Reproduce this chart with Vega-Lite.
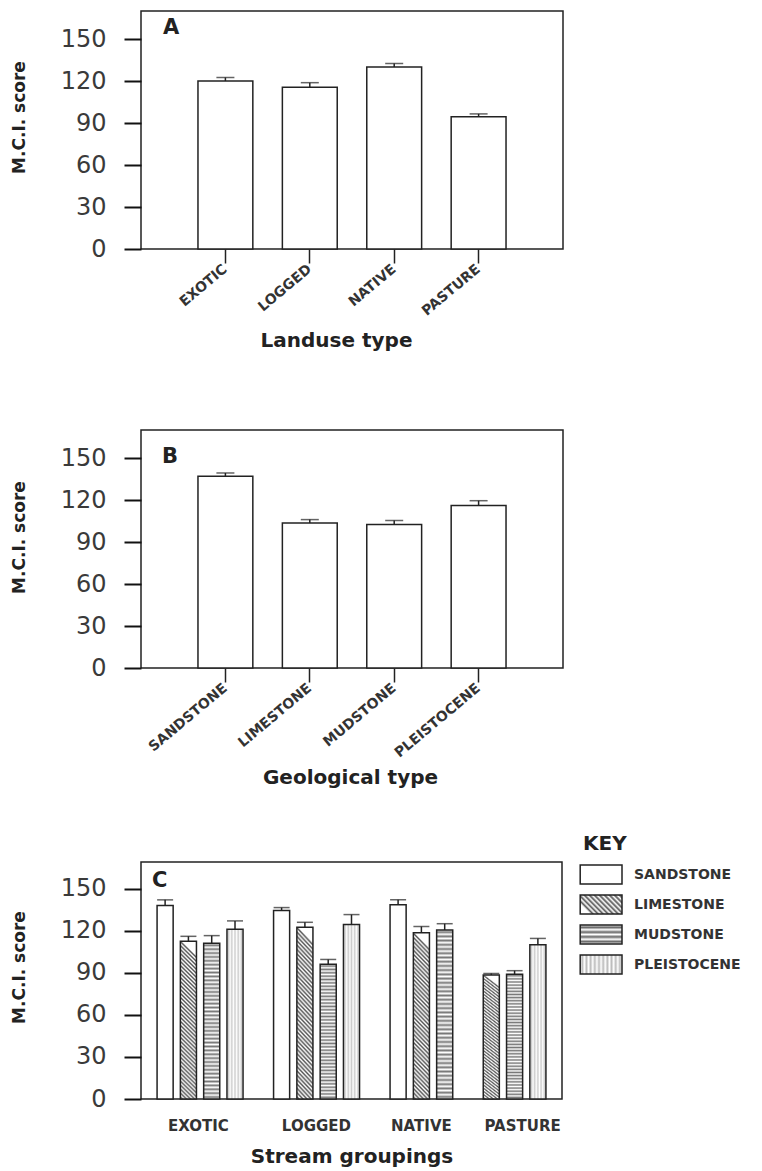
{
  "$schema": "https://vega.github.io/schema/vega-lite/v6.json",
  "background": "white",
  "padding": {"left": 9, "top": 10, "right": 5, "bottom": 5},
  "params": [
    {"name": "mudGrad", "value": {"gradient": "linear", "x1": 0, "y1": 0, "x2": 0, "y2": 1, "stops": [{"offset":0,"color":"#ffffff"},{"offset":0.0125,"color":"#777777"},{"offset":0.025,"color":"#ffffff"},{"offset":0.0375,"color":"#777777"},{"offset":0.05,"color":"#ffffff"},{"offset":0.0625,"color":"#777777"},{"offset":0.075,"color":"#ffffff"},{"offset":0.0875,"color":"#777777"},{"offset":0.1,"color":"#ffffff"},{"offset":0.1125,"color":"#777777"},{"offset":0.125,"color":"#ffffff"},{"offset":0.1375,"color":"#777777"},{"offset":0.15,"color":"#ffffff"},{"offset":0.1625,"color":"#777777"},{"offset":0.175,"color":"#ffffff"},{"offset":0.1875,"color":"#777777"},{"offset":0.2,"color":"#ffffff"},{"offset":0.2125,"color":"#777777"},{"offset":0.225,"color":"#ffffff"},{"offset":0.2375,"color":"#777777"},{"offset":0.25,"color":"#ffffff"},{"offset":0.2625,"color":"#777777"},{"offset":0.275,"color":"#ffffff"},{"offset":0.2875,"color":"#777777"},{"offset":0.3,"color":"#ffffff"},{"offset":0.3125,"color":"#777777"},{"offset":0.325,"color":"#ffffff"},{"offset":0.3375,"color":"#777777"},{"offset":0.35,"color":"#ffffff"},{"offset":0.3625,"color":"#777777"},{"offset":0.375,"color":"#ffffff"},{"offset":0.3875,"color":"#777777"},{"offset":0.4,"color":"#ffffff"},{"offset":0.4125,"color":"#777777"},{"offset":0.425,"color":"#ffffff"},{"offset":0.4375,"color":"#777777"},{"offset":0.45,"color":"#ffffff"},{"offset":0.4625,"color":"#777777"},{"offset":0.475,"color":"#ffffff"},{"offset":0.4875,"color":"#777777"},{"offset":0.5,"color":"#ffffff"},{"offset":0.5125,"color":"#777777"},{"offset":0.525,"color":"#ffffff"},{"offset":0.5375,"color":"#777777"},{"offset":0.55,"color":"#ffffff"},{"offset":0.5625,"color":"#777777"},{"offset":0.575,"color":"#ffffff"},{"offset":0.5875,"color":"#777777"},{"offset":0.6,"color":"#ffffff"},{"offset":0.6125,"color":"#777777"},{"offset":0.625,"color":"#ffffff"},{"offset":0.6375,"color":"#777777"},{"offset":0.65,"color":"#ffffff"},{"offset":0.6625,"color":"#777777"},{"offset":0.675,"color":"#ffffff"},{"offset":0.6875,"color":"#777777"},{"offset":0.7,"color":"#ffffff"},{"offset":0.7125,"color":"#777777"},{"offset":0.725,"color":"#ffffff"},{"offset":0.7375,"color":"#777777"},{"offset":0.75,"color":"#ffffff"},{"offset":0.7625,"color":"#777777"},{"offset":0.775,"color":"#ffffff"},{"offset":0.7875,"color":"#777777"},{"offset":0.8,"color":"#ffffff"},{"offset":0.8125,"color":"#777777"},{"offset":0.825,"color":"#ffffff"},{"offset":0.8375,"color":"#777777"},{"offset":0.85,"color":"#ffffff"},{"offset":0.8625,"color":"#777777"},{"offset":0.875,"color":"#ffffff"},{"offset":0.8875,"color":"#777777"},{"offset":0.9,"color":"#ffffff"},{"offset":0.9125,"color":"#777777"},{"offset":0.925,"color":"#ffffff"},{"offset":0.9375,"color":"#777777"},{"offset":0.95,"color":"#ffffff"},{"offset":0.9625,"color":"#777777"},{"offset":0.975,"color":"#ffffff"},{"offset":0.9875,"color":"#777777"},{"offset":1,"color":"#ffffff"}]}},
    {"name": "limeGrad", "value": {"gradient": "linear", "x1": 0.1, "y1": 0, "x2": 0, "y2": 1, "stops": [{"offset":0,"color":"#ffffff"},{"offset":0.0125,"color":"#555555"},{"offset":0.025,"color":"#ffffff"},{"offset":0.0375,"color":"#555555"},{"offset":0.05,"color":"#ffffff"},{"offset":0.0625,"color":"#555555"},{"offset":0.075,"color":"#ffffff"},{"offset":0.0875,"color":"#555555"},{"offset":0.1,"color":"#ffffff"},{"offset":0.1125,"color":"#555555"},{"offset":0.125,"color":"#ffffff"},{"offset":0.1375,"color":"#555555"},{"offset":0.15,"color":"#ffffff"},{"offset":0.1625,"color":"#555555"},{"offset":0.175,"color":"#ffffff"},{"offset":0.1875,"color":"#555555"},{"offset":0.2,"color":"#ffffff"},{"offset":0.2125,"color":"#555555"},{"offset":0.225,"color":"#ffffff"},{"offset":0.2375,"color":"#555555"},{"offset":0.25,"color":"#ffffff"},{"offset":0.2625,"color":"#555555"},{"offset":0.275,"color":"#ffffff"},{"offset":0.2875,"color":"#555555"},{"offset":0.3,"color":"#ffffff"},{"offset":0.3125,"color":"#555555"},{"offset":0.325,"color":"#ffffff"},{"offset":0.3375,"color":"#555555"},{"offset":0.35,"color":"#ffffff"},{"offset":0.3625,"color":"#555555"},{"offset":0.375,"color":"#ffffff"},{"offset":0.3875,"color":"#555555"},{"offset":0.4,"color":"#ffffff"},{"offset":0.4125,"color":"#555555"},{"offset":0.425,"color":"#ffffff"},{"offset":0.4375,"color":"#555555"},{"offset":0.45,"color":"#ffffff"},{"offset":0.4625,"color":"#555555"},{"offset":0.475,"color":"#ffffff"},{"offset":0.4875,"color":"#555555"},{"offset":0.5,"color":"#ffffff"},{"offset":0.5125,"color":"#555555"},{"offset":0.525,"color":"#ffffff"},{"offset":0.5375,"color":"#555555"},{"offset":0.55,"color":"#ffffff"},{"offset":0.5625,"color":"#555555"},{"offset":0.575,"color":"#ffffff"},{"offset":0.5875,"color":"#555555"},{"offset":0.6,"color":"#ffffff"},{"offset":0.6125,"color":"#555555"},{"offset":0.625,"color":"#ffffff"},{"offset":0.6375,"color":"#555555"},{"offset":0.65,"color":"#ffffff"},{"offset":0.6625,"color":"#555555"},{"offset":0.675,"color":"#ffffff"},{"offset":0.6875,"color":"#555555"},{"offset":0.7,"color":"#ffffff"},{"offset":0.7125,"color":"#555555"},{"offset":0.725,"color":"#ffffff"},{"offset":0.7375,"color":"#555555"},{"offset":0.75,"color":"#ffffff"},{"offset":0.7625,"color":"#555555"},{"offset":0.775,"color":"#ffffff"},{"offset":0.7875,"color":"#555555"},{"offset":0.8,"color":"#ffffff"},{"offset":0.8125,"color":"#555555"},{"offset":0.825,"color":"#ffffff"},{"offset":0.8375,"color":"#555555"},{"offset":0.85,"color":"#ffffff"},{"offset":0.8625,"color":"#555555"},{"offset":0.875,"color":"#ffffff"},{"offset":0.8875,"color":"#555555"},{"offset":0.9,"color":"#ffffff"},{"offset":0.9125,"color":"#555555"},{"offset":0.925,"color":"#ffffff"},{"offset":0.9375,"color":"#555555"},{"offset":0.95,"color":"#ffffff"},{"offset":0.9625,"color":"#555555"},{"offset":0.975,"color":"#ffffff"},{"offset":0.9875,"color":"#555555"},{"offset":1,"color":"#ffffff"}]}},
    {"name": "pleiGrad", "value": {"gradient": "linear", "x1": 0, "y1": 0, "x2": 1, "y2": 0, "stops": [{"offset":0,"color":"#ffffff"},{"offset":0.1,"color":"#cccccc"},{"offset":0.2,"color":"#ffffff"},{"offset":0.3,"color":"#cccccc"},{"offset":0.4,"color":"#ffffff"},{"offset":0.5,"color":"#cccccc"},{"offset":0.6,"color":"#ffffff"},{"offset":0.7,"color":"#cccccc"},{"offset":0.8,"color":"#ffffff"},{"offset":0.9,"color":"#cccccc"},{"offset":1,"color":"#ffffff"}]}},
    {"name": "mudLeg", "value": {"gradient": "linear", "x1": 0, "y1": 0, "x2": 0, "y2": 1, "stops": [{"offset":0,"color":"#ffffff"},{"offset":0.125,"color":"#666666"},{"offset":0.25,"color":"#ffffff"},{"offset":0.375,"color":"#666666"},{"offset":0.5,"color":"#ffffff"},{"offset":0.625,"color":"#666666"},{"offset":0.75,"color":"#ffffff"},{"offset":0.875,"color":"#666666"},{"offset":1,"color":"#ffffff"}]}},
    {"name": "limeLeg", "value": {"gradient": "linear", "x1": 1, "y1": 0, "x2": 0, "y2": 0.45, "stops": [{"offset":0,"color":"#ffffff"},{"offset":0.05,"color":"#555555"},{"offset":0.1,"color":"#ffffff"},{"offset":0.15,"color":"#555555"},{"offset":0.2,"color":"#ffffff"},{"offset":0.25,"color":"#555555"},{"offset":0.3,"color":"#ffffff"},{"offset":0.35,"color":"#555555"},{"offset":0.4,"color":"#ffffff"},{"offset":0.45,"color":"#555555"},{"offset":0.5,"color":"#ffffff"},{"offset":0.55,"color":"#555555"},{"offset":0.6,"color":"#ffffff"},{"offset":0.65,"color":"#555555"},{"offset":0.7,"color":"#ffffff"},{"offset":0.75,"color":"#555555"},{"offset":0.8,"color":"#ffffff"},{"offset":0.85,"color":"#555555"},{"offset":0.9,"color":"#ffffff"},{"offset":0.95,"color":"#555555"},{"offset":1,"color":"#ffffff"}]}},
    {"name": "pleiLeg", "value": {"gradient": "linear", "x1": 0, "y1": 0, "x2": 1, "y2": 0, "stops": [{"offset":0,"color":"#ffffff"},{"offset":0.05,"color":"#bbbbbb"},{"offset":0.1,"color":"#ffffff"},{"offset":0.15,"color":"#bbbbbb"},{"offset":0.2,"color":"#ffffff"},{"offset":0.25,"color":"#bbbbbb"},{"offset":0.3,"color":"#ffffff"},{"offset":0.35,"color":"#bbbbbb"},{"offset":0.4,"color":"#ffffff"},{"offset":0.45,"color":"#bbbbbb"},{"offset":0.5,"color":"#ffffff"},{"offset":0.55,"color":"#bbbbbb"},{"offset":0.6,"color":"#ffffff"},{"offset":0.65,"color":"#bbbbbb"},{"offset":0.7,"color":"#ffffff"},{"offset":0.75,"color":"#bbbbbb"},{"offset":0.8,"color":"#ffffff"},{"offset":0.85,"color":"#bbbbbb"},{"offset":0.9,"color":"#ffffff"},{"offset":0.95,"color":"#bbbbbb"},{"offset":1,"color":"#ffffff"}]}}
  ],
  "datasets": {
    "landuse": [
      {"landuse": "EXOTIC", "mci": 120, "err": 122.5},
      {"landuse": "LOGGED", "mci": 115.5, "err": 118.8},
      {"landuse": "NATIVE", "mci": 130, "err": 132.5},
      {"landuse": "PASTURE", "mci": 94.5, "err": 96.5}
    ],
    "geology": [
      {"geology": "SANDSTONE", "mci": 137, "err": 139.3},
      {"geology": "LIMESTONE", "mci": 103.5, "err": 106},
      {"geology": "MUDSTONE", "mci": 102.5, "err": 105.3},
      {"geology": "PLEISTOCENE", "mci": 116, "err": 119.5}
    ],
    "streams": [
      {"bar": "EXOTIC|SANDSTONE", "grouping": "EXOTIC", "type": "SANDSTONE", "mci": 138, "err": 142},
      {"bar": "EXOTIC|LIMESTONE", "grouping": "EXOTIC", "type": "LIMESTONE", "mci": 112.5, "err": 116},
      {"bar": "EXOTIC|MUDSTONE", "grouping": "EXOTIC", "type": "MUDSTONE", "mci": 111, "err": 116.5},
      {"bar": "EXOTIC|PLEISTOCENE", "grouping": "EXOTIC", "type": "PLEISTOCENE", "mci": 121, "err": 127},
      {"bar": "LOGGED|SANDSTONE", "grouping": "LOGGED", "type": "SANDSTONE", "mci": 134.5, "err": 136.5},
      {"bar": "LOGGED|LIMESTONE", "grouping": "LOGGED", "type": "LIMESTONE", "mci": 122.5, "err": 126},
      {"bar": "LOGGED|MUDSTONE", "grouping": "LOGGED", "type": "MUDSTONE", "mci": 96, "err": 99.5},
      {"bar": "LOGGED|PLEISTOCENE", "grouping": "LOGGED", "type": "PLEISTOCENE", "mci": 124.5, "err": 131.5},
      {"bar": "NATIVE|SANDSTONE", "grouping": "NATIVE", "type": "SANDSTONE", "mci": 138.5, "err": 142},
      {"bar": "NATIVE|LIMESTONE", "grouping": "NATIVE", "type": "LIMESTONE", "mci": 118.5, "err": 123},
      {"bar": "NATIVE|MUDSTONE", "grouping": "NATIVE", "type": "MUDSTONE", "mci": 120.5, "err": 125},
      {"bar": "PASTURE|LIMESTONE", "grouping": "PASTURE", "type": "LIMESTONE", "mci": 88.5, "err": 89.5},
      {"bar": "PASTURE|MUDSTONE", "grouping": "PASTURE", "type": "MUDSTONE", "mci": 89, "err": 91.5},
      {"bar": "PASTURE|PLEISTOCENE", "grouping": "PASTURE", "type": "PLEISTOCENE", "mci": 110, "err": 114.5}
    ]
  },
  "config": {
    "view": {"stroke": "#222222", "strokeWidth": 1.5},
    "title": {"font": "DejaVu Sans"},
    "axis": {"grid": false, "domain": false, "ticks": true, "tickColor": "#222222", "tickWidth": 1.5, "tickOpacity": 1, "labelColor": "#333333", "titleColor": "#222222", "labelFont": "DejaVu Sans", "titleFont": "DejaVu Sans", "titleFontWeight": "bold"},
    "axisY": {"labelFontSize": 24, "labelPadding": 18, "tickSize": 17, "ticks": true, "tickColor": "#111111", "tickWidth": 2, "tickOpacity": 1, "titleFontSize": 17, "titleBaseline": "bottom", "labelFontWeight": "normal", "labelColor": "#3a3a3a"},
    "axisX": {"labelFontWeight": "bold", "titleFontSize": 20, "titleBaseline": "alphabetic"}
  },
  "spacing": 73,
  "vconcat": [
    {
      "spacing": 78,
      "vconcat": [
        {
          "width": 422,
          "height": 238,
          "title": {"text": "A", "anchor": "start", "frame": "group", "offset": -44, "dx": 22, "fontSize": 21, "fontWeight": "bold", "baseline": "alphabetic", "color": "#222222"},
          "data": {"name": "landuse"},
          "encoding": {
            "x": {"field": "landuse", "type": "nominal", "sort": null, "scale": {"paddingInner": 0.35, "paddingOuter": 0.675},
              "axis": {"title": "Landuse type", "titleX": 195, "titleY": 97, "labelAngle": -40, "labelAlign": "right", "labelBaseline": "middle", "labelFontSize": 14, "labelPadding": 4, "tickSize": 14}},
            "y": {"field": "mci", "type": "quantitative", "scale": {"domain": [0, 170]},
              "axis": {"title": "M.C.I. score", "values": [0, 30, 60, 90, 120, 150], "titleX": -113, "titleY": 106, "ticks": true, "tickSize": 17, "tickColor": "#111111", "tickWidth": 2, "tickOpacity": 1}}
          },
          "layer": [
            {"mark": {"type": "bar", "fill": "#ffffff", "stroke": "#222222", "strokeWidth": 1.5}},
            {"mark": {"type": "rule", "color": "#222222", "strokeWidth": 1.5},
             "encoding": {"y2": {"field": "err"}}},
            {"mark": {"type": "tick", "color": "#222222", "thickness": 1.5, "size": 18},
             "encoding": {"y": {"field": "err", "type": "quantitative"}}}
          ]
        },
        {
          "width": 422,
          "height": 238,
          "title": {"text": "B", "anchor": "start", "frame": "group", "offset": -54, "dx": 21, "fontSize": 21, "fontWeight": "bold", "baseline": "alphabetic", "color": "#222222"},
          "data": {"name": "geology"},
          "encoding": {
            "x": {"field": "geology", "type": "nominal", "sort": null, "scale": {"paddingInner": 0.35, "paddingOuter": 0.675},
              "axis": {"title": "Geological type", "titleX": 209, "titleY": 115, "labelAngle": -40, "labelAlign": "right", "labelBaseline": "middle", "labelFontSize": 14, "labelPadding": 4, "tickSize": 14}},
            "y": {"field": "mci", "type": "quantitative", "scale": {"domain": [0, 170]},
              "axis": {"title": "M.C.I. score", "values": [0, 30, 60, 90, 120, 150], "titleX": -113, "titleY": 107, "ticks": true, "tickSize": 17, "tickColor": "#111111", "tickWidth": 2, "tickOpacity": 1}}
          },
          "layer": [
            {"mark": {"type": "bar", "fill": "#ffffff", "stroke": "#222222", "strokeWidth": 1.5}},
            {"mark": {"type": "rule", "color": "#222222", "strokeWidth": 1.5},
             "encoding": {"y2": {"field": "err"}}},
            {"mark": {"type": "tick", "color": "#222222", "thickness": 1.5, "size": 18},
             "encoding": {"y": {"field": "err", "type": "quantitative"}}}
          ]
        }
      ]
    },
    {
      "width": 421,
      "height": 237,
      "title": {"text": "C", "anchor": "start", "frame": "group", "offset": -46, "dx": 11, "fontSize": 21, "fontWeight": "bold", "baseline": "alphabetic", "color": "#222222"},
      "data": {"name": "streams"},
      "encoding": {
        "x": {"field": "bar", "type": "nominal",
          "scale": {"domain": ["EXOTIC|SANDSTONE", "EXOTIC|LIMESTONE", "EXOTIC|MUDSTONE", "EXOTIC|PLEISTOCENE", "gap1", "LOGGED|SANDSTONE", "LOGGED|LIMESTONE", "LOGGED|MUDSTONE", "LOGGED|PLEISTOCENE", "gap2", "NATIVE|SANDSTONE", "NATIVE|LIMESTONE", "NATIVE|MUDSTONE", "gap3", "PASTURE|LIMESTONE", "PASTURE|MUDSTONE", "PASTURE|PLEISTOCENE"], "paddingInner": 0.31, "paddingOuter": 0.69},
          "axis": {"title": "Stream groupings", "titleY": 63, "values": ["EXOTIC|LIMESTONE", "LOGGED|LIMESTONE", "NATIVE|LIMESTONE", "PASTURE|MUDSTONE"],
            "labelExpr": "split(datum.value, '|')[0]", "labelAngle": 0, "labelAlign": "center", "labelBaseline": "alphabetic", "labelFontSize": 15, "labelPadding": 31, "ticks": false, "tickSize": 0, "labelOverlap": false,
            "labelOffset": {"condition": [{"test": "datum.value == 'EXOTIC|LIMESTONE'", "value": 10}, {"test": "datum.value == 'LOGGED|LIMESTONE'", "value": 11.5}, {"test": "datum.value == 'PASTURE|MUDSTONE'", "value": 8}], "value": 0}}},
        "y": {"field": "mci", "type": "quantitative", "scale": {"domain": [0, 169]},
          "axis": {"title": "M.C.I. score", "values": [0, 30, 60, 90, 120, 150], "titleX": -113, "titleY": 105, "ticks": true, "tickSize": 17, "tickColor": "#111111", "tickWidth": 2, "tickOpacity": 1}}
      },
      "layer": [
        {"mark": {"type": "bar", "strokeWidth": 1.5, "fill": {"expr": "datum.type == 'LIMESTONE' ? limeGrad : datum.type == 'MUDSTONE' ? mudGrad : datum.type == 'PLEISTOCENE' ? pleiGrad : '#ffffff'"}},
         "encoding": {
           "stroke": {"field": "type", "type": "nominal",
             "scale": {"domain": ["SANDSTONE", "LIMESTONE", "MUDSTONE", "PLEISTOCENE"], "range": ["#222222", "#222222", "#222222", "#222222"]},
             "legend": {"title": "KEY", "orient": "none", "legendX": 442, "legendY": 823, "padding": 0,
               "symbolType": "M-1.4,-1H3V1H-1.4Z", "symbolSize": 361, "symbolStrokeWidth": 1.5, "symbolOffset": 0,
               "labelOffset": 30, "rowPadding": 5, "titlePadding": 10,
               "titleFont": "DejaVu Sans", "titleFontSize": 20, "titleFontWeight": "bold", "titleColor": "#222222",
               "labelFont": "DejaVu Sans", "labelFontSize": 14, "labelFontWeight": "bold", "labelColor": "#333333",
               "encoding": {"symbols": {"fill": {"value": {"expr": "datum.value == 'LIMESTONE' ? limeLeg : datum.value == 'MUDSTONE' ? mudLeg : datum.value == 'PLEISTOCENE' ? pleiLeg : '#ffffff'"}}}}}}
         }},
        {"mark": {"type": "rule", "color": "#222222", "strokeWidth": 1.5},
         "encoding": {"y2": {"field": "err"}}},
        {"mark": {"type": "tick", "color": "#222222", "thickness": 1.5, "size": 16},
         "encoding": {"y": {"field": "err", "type": "quantitative"}}}
      ]
    }
  ]
}
